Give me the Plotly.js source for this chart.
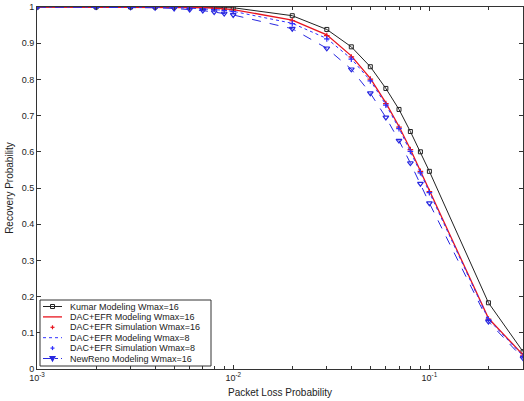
<!DOCTYPE html>
<html><head><meta charset="utf-8">
<script src="https://cdn.plot.ly/plotly-3.0.1.min.js"></script>
<style>html,body{margin:0;padding:0;background:#fff}#c{width:524px;height:401px}</style>
</head><body><div id="c"></div>
<script>
var lossProb = [0.001,0.002,0.003,0.004,0.005,0.006,0.007,0.008,0.009,0.01,0.02,0.03,0.04,0.05,0.06,0.07,0.08,0.09,0.1,0.2,0.3];
var kumar16 = [1,1,1,1,1,1,1,0.9995,0.999,0.998,0.976,0.938,0.890,0.835,0.775,0.717,0.656,0.600,0.546,0.183,0.048];
var dacModel16 = [1,1,1,1,1,0.999,0.998,0.997,0.995,0.993,0.964,0.923,0.865,0.803,0.735,0.670,0.607,0.547,0.492,0.140,0.039];
var dacSim16 = [1,1,1,1,1,0.999,0.998,0.996,0.995,0.992,0.962,0.921,0.862,0.801,0.733,0.668,0.606,0.546,0.490,0.138,0.038];
var dacModel8 = [1,1,1,1,0.999,0.997,0.995,0.993,0.991,0.988,0.955,0.913,0.857,0.797,0.730,0.665,0.602,0.543,0.488,0.137,0.036];
var dacSim8 = [1,1,1,1,0.999,0.997,0.995,0.993,0.990,0.987,0.954,0.912,0.856,0.796,0.729,0.664,0.601,0.542,0.487,0.136,0.035];
var newReno16 = [1,1,0.999,0.998,0.996,0.993,0.990,0.986,0.982,0.978,0.940,0.886,0.828,0.762,0.695,0.631,0.569,0.512,0.458,0.131,0.030];
var names = ['Kumar Modeling Wmax=16','DAC+EFR Modeling Wmax=16','DAC+EFR Simulation Wmax=16','DAC+EFR Modeling Wmax=8','DAC+EFR Simulation Wmax=8','NewReno Modeling Wmax=16'];
var xTickVals = [0.001,0.01,0.1];
var xTickText = ['10<sup>-3</sup>','10<sup>-2</sup>','10<sup>-1</sup>'];
var yTickVals = [0,0.1,0.2,0.3,0.4,0.5,0.6,0.7,0.8,0.9,1];
var yTickText = ['0','0.1','0.2','0.3','0.4','0.5','0.6','0.7','0.8','0.9','1'];
var minorVals = [];
[0.001,0.01,0.1].forEach(function(d){for(var k=2;k<=9;k++){if(d*k<=0.3)minorVals.push(d*k);}});

var C = {k:'#222', r:'#e8141e', b:'#3030ff', nb:'#2828e0'};
var traces = [
 {x:lossProb,y:kumar16,name:names[0],mode:'lines+markers',line:{color:C.k,width:1},marker:{symbol:'square-open',size:4,color:C.k,line:{width:1}}},
 {x:lossProb,y:dacModel16,name:names[1],mode:'lines',line:{color:C.r,width:1.3}},
 {x:lossProb,y:dacSim16,name:names[2],mode:'markers',marker:{symbol:'cross-thin-open',size:4,color:C.r,line:{width:1.2,color:C.r}}},
 {x:lossProb,y:dacModel8,name:names[3],mode:'lines',line:{color:C.b,width:1,dash:'dot'}},
 {x:lossProb,y:dacSim8,name:names[4],mode:'markers',marker:{symbol:'cross-thin-open',size:4,color:C.b,line:{width:1.2,color:C.b}}},
 {x:lossProb,y:newReno16,name:names[5],mode:'lines+markers',line:{color:C.nb,width:1,dash:'dash'},marker:{symbol:'triangle-down-open',size:5,color:C.nb,line:{width:1.2}}}
];
traces.forEach(function(t){t.showlegend=false;});

// compact legend box (MATLAB style) built from the trace names
var W=524,H=401,ML=37,MR=1,MT=7,MB=32;
var PW=W-ML-MR, PH=H-MT-MB;
function px(x){return (x-ML)/PW;}
function py(y){return (H-MB-y)/PH;}
var shapes=[], annots=[];
var box={l:40,r:211,t:300,b:366};
shapes.push({type:'rect',xref:'paper',yref:'paper',x0:px(box.l),x1:px(box.r),y0:py(box.b),y1:py(box.t),line:{color:'#333',width:1},fillcolor:'#fff',layer:'above'});
var rowH=10.4, row0=306.5, sx0=43, sx1=62, smid=52.5, tx=68;
var legendStyle=[
 {line:{color:C.k,width:1},mk:'square',col:C.k},
 {line:{color:C.r,width:1.3}},
 {mk:'plus',col:C.r},
 {line:{color:C.b,width:1,dash:'dot'}},
 {mk:'plus',col:C.b},
 {line:{color:C.nb,width:1,dash:'dashdot'},mk:'tri',col:C.nb}
];
names.forEach(function(n,i){
  var yc=row0+i*rowH, st=legendStyle[i];
  if(st.line) shapes.push({type:'line',xref:'paper',yref:'paper',x0:px(sx0),x1:px(sx1),y0:py(yc),y1:py(yc),line:st.line,layer:'above'});
  if(st.mk==='square') shapes.push({type:'rect',xref:'paper',yref:'paper',x0:px(smid-2),x1:px(smid+2),y0:py(yc+2),y1:py(yc-2),line:{color:st.col,width:1},fillcolor:'rgba(0,0,0,0)',layer:'above'});
  if(st.mk==='plus'){
    shapes.push({type:'line',xref:'paper',yref:'paper',x0:px(smid-2),x1:px(smid+2),y0:py(yc),y1:py(yc),line:{color:st.col,width:1.2},layer:'above'});
    shapes.push({type:'line',xref:'paper',yref:'paper',x0:px(smid),x1:px(smid),y0:py(yc-2),y1:py(yc+2),line:{color:st.col,width:1.2},layer:'above'});
  }
  if(st.mk==='tri') shapes.push({type:'path',xref:'paper',yref:'paper',path:'M'+px(smid-2.5)+','+py(yc-2)+' L'+px(smid+2.5)+','+py(yc-2)+' L'+px(smid)+','+py(yc+2.5)+' Z',line:{color:st.col,width:1.2},fillcolor:st.col,layer:'above'});
  annots.push({xref:'paper',yref:'paper',x:px(tx),y:py(yc),xanchor:'left',yanchor:'middle',text:n,showarrow:false,font:{family:'Liberation Sans, Arial, sans-serif',size:9,color:'#222'}});
});

var fnt = {family:'Liberation Sans, Arial, sans-serif',size:9,color:'#222'};
var layout = {
 width:W,height:H,
 margin:{l:ML,r:MR,t:MT,b:MB},
 paper_bgcolor:'#fff',plot_bgcolor:'#fff',
 showlegend:false,
 font:fnt,
 xaxis:{type:'log',range:[-3,Math.log10(0.3)],tickvals:xTickVals,ticktext:xTickText,ticks:'inside',ticklen:4,tickcolor:'#333',
   showgrid:false,zeroline:false,showline:true,linecolor:'#333',linewidth:1,mirror:'ticks',
   minor:{tickvals:minorVals,ticks:'inside',ticklen:3,tickcolor:'#333',showgrid:false},
   title:{text:'Packet Loss Probability',font:{family:'Liberation Sans, Arial, sans-serif',size:10,color:'#222'},standoff:7},tickfont:fnt},
 yaxis:{range:[0,1],tickvals:yTickVals,ticktext:yTickText,ticks:'inside',ticklen:4,tickcolor:'#333',
   showgrid:false,zeroline:false,showline:true,linecolor:'#333',linewidth:1,mirror:'ticks',
   title:{text:'Recovery Probability',font:{family:'Liberation Sans, Arial, sans-serif',size:10,color:'#222'},standoff:6},tickfont:fnt},
 shapes:shapes,
 annotations:annots
};
Plotly.newPlot('c',traces,layout,{staticPlot:true});
</script></body></html>
